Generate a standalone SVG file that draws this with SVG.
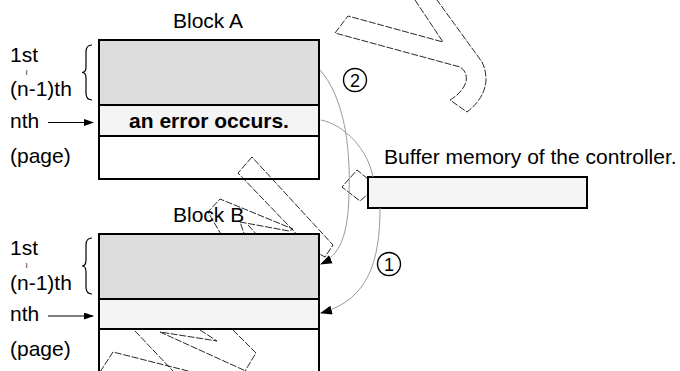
<svg xmlns="http://www.w3.org/2000/svg" width="680" height="371" viewBox="0 0 680 371">
  <style>
    .lbl { font-family: "Liberation Sans", Arial, sans-serif; font-size: 21px; fill: #000; }
    .bold { font-weight: bold; }
    .wave { font-family: "DejaVu Sans", sans-serif; font-size: 8px; fill: #000; }
    .wm { fill: none; stroke: #111; stroke-width: 0.9; stroke-dasharray: 7 1.6; }
    .frame { fill: none; stroke: #000; stroke-width: 2; }
    .sep { stroke: #000; stroke-width: 2; }
    .pages { fill: #dddddd; }
    .page-n { fill: #f4f4f4; }
    .brace { fill: none; stroke: #000; stroke-width: 1.2; }
    .ptr { stroke: #000; stroke-width: 1.1; marker-end: url(#head-s); }
    .flow { fill: none; stroke: #9a9a9a; stroke-width: 1; marker-end: url(#head); }
    .flow-plain { fill: none; stroke: #9a9a9a; stroke-width: 1; }
    .step { fill: #fff; stroke: #000; stroke-width: 1.4; }
    .num { font-family: "Liberation Sans", Arial, sans-serif; font-size: 18px; fill: #000; text-anchor: middle; }
  </style>
  <defs>
    <marker id="head" markerWidth="12" markerHeight="9" refX="11" refY="4.5" orient="auto" markerUnits="userSpaceOnUse">
      <path d="M0,0 L12,4.5 L0,9 z" fill="#000"/>
    </marker>
    <marker id="head-s" markerWidth="10" markerHeight="7" refX="9" refY="3.5" orient="auto" markerUnits="userSpaceOnUse">
      <path d="M0,0 L10,3.5 L0,7 z" fill="#000"/>
    </marker>
  </defs>

  <rect width="680" height="371" fill="#fff"/>

  <!-- dashed background outlines -->
  <g id="backdrop">
    <path class="wm" d="M415,0 L443,42 L348,16 L335,33 L460,67 Q468,72 466,82 Q462,93 450,100 L467,112 Q485,98 486,80 Q486,70 482,62 L437,0"/>
    <path class="wm" d="M368,179 L357,170 L342,187 L360,201 L368,194"/>
    <path class="wm" d="M252,157 L238,173 L312,250 L325,257 L333,245 Z"/>
    <path class="wm" d="M222,236 L208,212 L220,199 L293,229 L289,231 L240,222 L245,236"/>
    <path class="wm" d="M248,225 L258,236"/>
    <path class="wm" d="M135,331 L173,371"/>
    <path class="wm" d="M200,330 L217,341 L160,332 L248,372"/>
    <path class="wm" d="M233,330 L256,353 L245,371"/>
    <path class="wm" d="M100,372 L113,352 L192,372"/>
  </g>

  <!-- Block A -->
  <g id="block-a">
    <text class="lbl" x="173" y="28">Block A</text>
    <rect class="pages" x="99" y="40" width="220" height="65"/>
    <rect class="page-n" x="99" y="105" width="220" height="31"/>
    <line class="sep" x1="99" y1="105" x2="320" y2="105"/>
    <line class="sep" x1="99" y1="136" x2="320" y2="136"/>
    <rect class="frame" x="99" y="40" width="220" height="139"/>
    <text class="lbl bold" x="209" y="128" text-anchor="middle">an error occurs.</text>
    <text class="lbl" x="10" y="61.5">1st</text>
    <text class="wave" x="26.5" y="74.5" text-anchor="middle">≀</text>
    <text class="lbl" x="10" y="95.5">(n-1)th</text>
    <path class="brace" d="M92,45 Q86,45 86,52 L86,67 Q86,72.5 82,72.5 Q86,72.5 86,78 L86,93 Q86,100 92,100"/>
    <text class="lbl" x="10" y="128">nth</text>
    <line class="ptr" x1="48" y1="122.5" x2="93" y2="122.5"/>
    <text class="lbl" x="10" y="163">(page)</text>
  </g>

  <!-- Buffer -->
  <g id="buffer">
    <text class="lbl" x="384" y="164">Buffer memory of the controller.</text>
    <rect x="368" y="177" width="219" height="31" fill="#f5f5f5" stroke="#000" stroke-width="2"/>
  </g>

  <!-- Block B -->
  <g id="block-b">
    <text class="lbl" x="173" y="222">Block B</text>
    <rect class="pages" x="99" y="234" width="220" height="65"/>
    <rect class="page-n" x="99" y="299" width="220" height="30"/>
    <line class="sep" x1="99" y1="299" x2="320" y2="299"/>
    <line class="sep" x1="99" y1="329" x2="320" y2="329"/>
    <path class="frame" d="M99,380 L99,234 L319,234 L319,380"/>
    <text class="lbl" x="10" y="254.5">1st</text>
    <text class="wave" x="26.5" y="267.5" text-anchor="middle">≀</text>
    <text class="lbl" x="10" y="289.5">(n-1)th</text>
    <path class="brace" d="M92,238 Q86,238 86,245 L86,260 Q86,266 82,266 Q86,266 86,272 L86,287 Q86,294 92,294"/>
    <text class="lbl" x="10" y="321">nth</text>
    <line class="ptr" x1="48" y1="316" x2="93" y2="316"/>
    <text class="lbl" x="10" y="356">(page)</text>
  </g>

  <!-- transfers -->
  <g id="connectors">
    <path class="flow" d="M320,70 C342,95 351,140 349,195 C348,235 340,255 321,264"/>
    <path class="flow-plain" d="M321,120 C345,125 368,150 373,177"/>
    <path class="flow" d="M380,208 C380,262 368,300 321,313"/>
  </g>

  <g id="step-2">
    <circle class="step" cx="355" cy="80" r="11.5"/>
    <text class="num" x="355" y="86.5">2</text>
  </g>
  <g id="step-1">
    <circle class="step" cx="389" cy="264" r="11.5"/>
    <text class="num" x="389" y="270.5">1</text>
  </g>
</svg>
